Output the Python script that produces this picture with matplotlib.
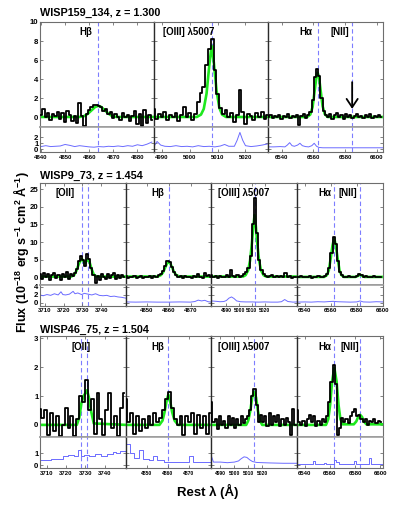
import numpy as np
import matplotlib.pyplot as plt

plt.rcParams['font.family'] = ['Liberation Sans', 'DejaVu Sans']
plt.rcParams['font.weight'] = 'bold'
plt.rcParams['mathtext.default'] = 'regular'

### data (rest wavelength in A, flux in 1e-18 cgs)

# WISP159_134, z = 1.300
p1_hb_grid = (4840.0, 1.0)
p1_hb_flux = [0.3, 0.9, 0.1, 0.5, -0.3, 0.4, 0.2, 0.6, -0.2, 0.5, -0.5, 0.7, 0.3, -0.4, 0.2, -0.6,
              1.5, 0.2, -0.9, 0.4, 0.8, 1.1, 1.3, 1.35, 1.25, 1.1, 0.7, 0.9, 0.4, 0.6, -0.1, 0.4,
              0.1, -0.3, 0.5, 0.0, 0.3, -0.4, 0.2, 0.7, -0.7, 0.4, -0.9, 0.8, -0.6, 0.3, -0.3]
p1_hb_model_wl = [4839.6, 4856, 4858, 4859.5, 4861, 4862.5, 4863.8, 4865, 4866.5, 4868, 4869.5, 4871.5, 4886.9]
p1_hb_model = [0.05, 0.05, 0.15, 0.4, 0.75, 1.1, 1.22, 1.1, 0.75, 0.4, 0.15, 0.05, 0.05]
p1_hb_err_wl = [4840, 4842, 4844, 4846, 4848, 4850, 4852, 4854, 4856, 4858, 4860, 4862, 4864, 4866,
                4868, 4870, 4872, 4874, 4876, 4878, 4880, 4882, 4884, 4886]
p1_hb_err = [0.45, 0.6, 0.45, 0.5, 0.55, 0.8, 0.65, 0.45, 0.6, 0.5, 0.4, 0.35, 0.45, 0.4,
             0.5, 0.45, 0.55, 0.45, 0.6, 0.5, 0.75, 0.6, 0.85, 1.2]

p1_o3_grid = (4987.0, 1.0)
p1_o3_flux = [0.9, -0.2, 0.4, 0.1, 0.6, -0.3, 0.3, 0.0, 0.5, -0.4, 0.3, 1.1, 0.0, 0.5, -0.3, 0.4,
              1.6, 2.6, 3.2, 5.5, 7.2, 8.2, 5.0, 2.5, 1.0, 0.4, 0.8, 0.1, 0.5, -0.5, 0.3, 2.9,
              0.6, -0.7, 0.4, 0.2, -0.3, 0.5, 0.1, 0.6, -0.2, 0.3]
p1_o3_model_wl = [4987.1, 5002.5, 5004, 5005, 5006, 5007, 5007.8, 5008.6, 5009.6, 5010.6, 5011.6, 5013, 5028.1]
p1_o3_model = [0.05, 0.05, 0.3, 0.9, 2.5, 5.5, 7.5, 5.8, 2.8, 1.0, 0.3, 0.05, 0.05]
p1_o3_err_wl = [4987.1, 4988.2, 4989.5, 4991, 4993, 4995, 4997, 4999, 5001, 5003, 5005, 5007, 5009,
                5011, 5012.5, 5014, 5016, 5017, 5018, 5019, 5020, 5022, 5024, 5026, 5028.1]
p1_o3_err = [0.5, 1.3, 0.7, 0.5, 0.45, 0.6, 0.45, 0.5, 0.4, 0.6, 0.45, 0.5, 0.4,
             0.55, 0.8, 0.5, 0.5, 1.5, 2.8, 1.5, 0.6, 0.45, 0.55, 0.7, 0.9]

p1_ha_grid = (6531.5, 1.4)
p1_ha_flux = [0.1, 0.3, -0.1, 0.2, 0.0, 0.3, -0.2, 0.2, 0.1, 0.4, -0.1, 0.2, 0.0, 0.3, -0.8, 0.2,
              0.4, -0.1, 0.3, 0.6, 1.8, 4.2, 5.1, 4.3, 2.0, 0.7, 0.3, 0.1, 0.4, -0.2, 0.3, 0.5,
              0.0, 0.3, -0.2, 0.4, 0.1, 0.3, -0.1, 0.2, 0.4, 0.0, 0.2, -0.1, 0.3, 0.1, 0.4, -0.1,
              0.2, 0.0, 0.3, 0.1]
p1_ha_model_wl = [6531.3, 6556, 6558, 6559.5, 6560.8, 6562, 6562.6, 6563.5, 6564.6, 6565.8, 6567.2, 6569, 6604]
p1_ha_model = [0.05, 0.05, 0.3, 1.1, 2.8, 4.4, 4.7, 4.3, 2.8, 1.2, 0.35, 0.05, 0.05]
p1_ha_err_wl = [6531.3, 6535, 6539, 6542, 6543.5, 6545, 6546.5, 6548, 6550, 6551.5, 6553, 6555,
                6557, 6559, 6560.5, 6562, 6563.5, 6566, 6575, 6590, 6604]
p1_ha_err = [0.4, 0.4, 0.45, 0.4, 0.7, 1.1, 0.6, 0.5, 0.7, 1.0, 0.6, 0.45,
             0.4, 0.6, 1.0, 0.5, 0.3, 0.25, 0.25, 0.25, 0.25]

# WISP9_73, z = 1.454
p2_o2_grid = (3707.3, 1.1)
p2_o2_flux = [0.8, -0.6, 1.2, 0.0, 0.9, -0.8, 0.5, 1.3, -0.3, 0.7, -0.9, 1.0, 0.2, 1.6, -0.5, 0.9,
              0.3, 1.2, 2.4, 4.6, 5.9, 4.8, 3.2, 6.5, 5.2, 2.5, 0.6, -1.6, 0.4, -0.8, 0.9, 0.1,
              -0.6, 0.8, -0.3, 0.5, 1.1, -0.5, 0.6, -0.2, 0.7, 0.1]
p2_o2_model_wl = [3707.3, 3724, 3725.5, 3726.8, 3728, 3729, 3729.7, 3730.5, 3731.3, 3732.1, 3732.9,
                  3733.8, 3734.8, 3736, 3737.5, 3753.1]
p2_o2_model = [0.2, 0.2, 0.6, 1.9, 3.7, 4.8, 5.2, 4.6, 3.9, 4.6, 5.1, 4.3, 2.4, 0.8, 0.2, 0.2]
p2_o2_err_wl = [3707.3, 3709, 3711, 3713, 3715, 3717, 3718.5, 3719.5, 3721, 3723, 3725, 3726, 3727.5,
                3729.5, 3731, 3733, 3735, 3737, 3739, 3741, 3743, 3745, 3747, 3749, 3751, 3753.1]
p2_o2_err = [2.0, 1.8, 2.1, 1.9, 2.3, 2.0, 2.8, 2.1, 2.0, 2.2, 2.9, 2.3, 2.5,
             2.1, 2.4, 2.2, 2.0, 2.3, 1.9, 1.8, 1.9, 1.6, 1.7, 1.5, 1.4, 1.2]

p2_hb_grid = (4840.5, 1.0)
p2_hb_flux = [0.3, -0.2, 0.2, 0.0, 0.4, -0.3, 0.1, 0.3, -0.2, 0.2, 0.0, 0.4, -0.1, 0.3, 0.1, 0.5,
              0.9, 1.8, 3.2, 4.6, 4.3, 2.8, 1.4, 0.6, 0.2, 0.4, -0.1, 0.3, 0.0, 0.2, -0.2, 0.4,
              0.1, 0.9, 0.2, -0.1, 1.1, 0.3, 0.6, 0.2]
p2_hb_model_wl = [4840.5, 4855, 4856.5, 4857.5, 4858.5, 4859.3, 4860, 4860.8, 4861.6, 4862.5, 4863.5, 4865, 4879.5]
p2_hb_model = [0.2, 0.2, 0.6, 1.4, 2.8, 3.9, 4.4, 3.9, 2.8, 1.5, 0.6, 0.2, 0.2]
p2_hb_err_wl = [4840.5, 4845, 4850, 4855, 4860, 4865, 4870, 4872, 4873.5, 4875, 4876.5, 4878, 4879.5]
p2_hb_err = [0.25, 0.2, 0.25, 0.2, 0.2, 0.25, 0.2, 0.35, 0.7, 0.5, 0.65, 0.3, 0.2]

p2_o3_grid = (4978.3, 1.7)
p2_o3_flux = [0.5, 0.1, 0.3, -0.2, 0.4, 0.2, 0.0, 0.5, 0.1, 2.1, 0.4, 0.2, 0.6, 0.0, 0.4, 0.9,
              1.4, 2.5, 6.0, 15.0, 22.4, 12.5, 5.0, 2.0, 0.8, 0.4, 0.0, 0.3, 0.5, 0.1, 0.3, 0.0,
              0.4, 0.2, 1.1, 0.1, 0.3, -0.1, 0.2, 0.0]
p2_o3_model_wl = [4978.3, 5003, 5005, 5007, 5008.5, 5010, 5011, 5012, 5013, 5014, 5015.5, 5017, 5019, 5021, 5045.2]
p2_o3_model = [0.2, 0.2, 0.6, 2.0, 4.8, 10.0, 14.5, 17.7, 14.5, 10.0, 4.8, 2.0, 0.6, 0.2, 0.2]
p2_o3_err_wl = [4978.3, 4982, 4985, 4988, 4990, 4992, 4994, 4996, 4998, 5001, 5005, 5010, 5015, 5020,
                5025, 5030, 5033, 5035.5, 5038, 5042, 5045.2]
p2_o3_err = [0.5, 0.4, 0.3, 0.35, 0.6, 1.2, 1.5, 1.1, 0.5, 0.3, 0.25, 0.25, 0.2, 0.25,
             0.2, 0.2, 0.3, 0.85, 0.35, 0.2, 0.25]

p2_ha_grid = (6534.1, 1.65)
p2_ha_flux = [0.2, 0.1, 0.3, 0.0, 0.2, 0.1, 0.3, -0.1, 0.2, 0.1, 0.3, 0.0, 0.2, 0.4, 1.0, 2.5,
              7.0, 11.5, 9.5, 4.5, 1.5, 0.5, 0.2, 0.0, 0.3, 0.1, 0.2, 0.0, 0.4, 0.9, 0.5, 0.1,
              0.3, 0.0, 0.2, 0.1, 0.3, 0.0, 0.2, 0.1]
p2_ha_model_wl = [6534.1, 6555, 6557, 6558.5, 6560, 6561.3, 6562.6, 6563.9, 6565.2, 6566.7, 6568.2,
                  6570, 6579, 6581, 6582.5, 6584, 6586, 6600]
p2_ha_model = [0.1, 0.1, 0.6, 2.0, 5.5, 9.0, 11.1, 9.0, 5.5, 2.0, 0.6, 0.1, 0.1, 0.4, 0.75, 0.4, 0.1, 0.1]
p2_ha_err_wl = [6534.1, 6540, 6545, 6550, 6555, 6559, 6562, 6565, 6570, 6575, 6580, 6582.5, 6585,
                6590, 6595, 6600]
p2_ha_err = [0.2, 0.25, 0.2, 0.3, 0.25, 0.35, 0.4, 0.3, 0.25, 0.2, 0.25, 0.5, 0.25, 0.2, 0.3, 0.25]

# WISP46_75, z = 1.504
p3_o2_grid = (3706.5, 1.5)
p3_o2_flux = [0.55, 0.25, 0.5, -0.35, 0.4, -0.2, 0.3, -0.4, 0.0, 0.6, -0.1, 0.3, -0.4, 0.2, 1.0,
              0.8, 1.55, 0.5, 0.9, -0.3, 1.1, 0.2, -0.35, 0.5, 1.1, -0.1, 0.3, -0.4, 0.6, 1.1]
p3_o2_model_wl = [3706.5, 3725.5, 3726.8, 3727.9, 3729, 3730, 3730.8, 3731.8, 3733, 3734.3, 3750.8]
p3_o2_model = [0.0, 0.0, 0.25, 0.75, 1.0, 1.1, 1.2, 0.95, 0.45, 0.05, 0.0]
p3_o2_err_wl = [3706.5, 3712, 3718.5, 3721, 3724, 3726, 3727.5, 3729, 3732, 3735, 3738, 3741, 3744,
                3746, 3748, 3750.8]
p3_o2_err = [0.45, 0.5, 0.8, 0.85, 0.75, 1.25, 0.75, 0.85, 0.8, 0.95, 0.8, 0.95, 1.15, 1.0, 1.2, 1.2]

p3_hb_grid = (4839.8, 1.4)
p3_hb_flux = [0.9, 0.1, 0.4, -0.3, 0.3, -0.2, 0.2, -0.1, 0.3, 0.0, 0.4, 0.1, 0.25, 0.5, 0.9,
              1.15, 0.6, 0.2, 0.0, 0.3, -0.35, 0.3, 0.1, 0.4, -0.3, 0.35, -0.1, 0.3, -0.3, 0.4]
p3_hb_model_wl = [4839.8, 4856, 4857.5, 4858.5, 4859.5, 4860.3, 4861.1, 4862.1, 4863.3, 4865, 4881]
p3_hb_model = [0.0, 0.0, 0.15, 0.45, 0.85, 1.05, 0.85, 0.45, 0.15, 0.0, 0.0]
p3_hb_err_wl = [4839.8, 4842, 4844, 4846, 4848, 4851, 4853, 4855, 4858, 4863, 4868, 4870, 4872, 4876, 4881]
p3_hb_err = [1.8, 1.0, 0.6, 1.3, 0.55, 0.45, 0.75, 0.4, 0.3, 0.3, 0.25, 0.75, 0.3, 0.25, 0.25]

p3_o3_grid = (4983.5, 1.55)
p3_o3_flux = [0.8, 0.1, 0.2, -0.15, 0.3, 0.0, 0.15, -0.1, 0.3, 0.0, 0.25, -0.1, 0.2, 0.0, 0.3,
              0.05, 0.2, 0.3, 0.5, 1.0, 1.25, 0.7, 0.1, 0.35, 0.1, 0.3, -0.05, 0.4, 0.0, 0.3,
              0.1, 0.35, -0.05, 0.2, 0.0, 0.25, 0.1, -0.35, 0.55, 0.0]
p3_o3_model_wl = [4983.5, 5008.5, 5010, 5011.5, 5012.8, 5014.2, 5015.6, 5016.9, 5018.4, 5020, 5045.1]
p3_o3_model = [0.0, 0.0, 0.15, 0.5, 0.95, 1.15, 0.95, 0.5, 0.15, 0.0, 0.0]
p3_o3_err_wl = [4983.5, 4985, 4990, 4995, 5000, 5003, 5005, 5007, 5009, 5011, 5013, 5016, 5025, 5035, 5045.1]
p3_o3_err = [0.75, 0.25, 0.25, 0.2, 0.25, 0.35, 0.55, 0.7, 0.65, 0.45, 0.3, 0.22, 0.18, 0.15, 0.15]

p3_ha_grid = (6534.1, 1.7)
p3_ha_flux = [0.5, 0.1, 0.0, 0.15, -0.05, 0.2, 0.35, 0.1, 0.3, -0.05, 0.15, 0.0, 0.2, 0.1, 0.3,
              0.8, 1.5, 2.08, 1.4, -0.35, -0.1, 0.25, 0.1, 0.2, 0.05, 0.3, 0.45, 0.55, 0.3, 0.35,
              0.2, 0.1, 0.2, 0.0, 0.15, 0.1, 0.2, 0.05, 0.15, 0.1]
p3_ha_model_wl = [6534.1, 6557, 6558.8, 6560.3, 6561.8, 6563.6, 6565.4, 6566.9, 6568.4, 6570.2, 6579,
                  6581, 6582.5, 6584, 6585.5, 6587, 6589, 6602]
p3_ha_model = [0.0, 0.0, 0.2, 0.7, 1.5, 1.98, 1.5, 0.7, 0.2, 0.02, 0.02, 0.12, 0.28, 0.35, 0.28, 0.12, 0.02, 0.02]
p3_ha_err_wl = [6534.1, 6546.5, 6548, 6549.5, 6555.5, 6557, 6558.5, 6563.5, 6565, 6567, 6569, 6579,
                6580.5, 6582, 6591, 6592.5, 6594, 6602]
p3_ha_err = [0.05, 0.35, 0.05, 0.05, 0.2, 0.05, 0.05, 0.45, 0.3, 0.1, 0.05, 0.35, 0.05, 0.05, 0.6, 0.05, 0.05, 0.05]

# marked line positions and tick labels
p1_lines = [[4863.8], [5007.8], [6563.1, 6584.5]]
p2_lines = [[3729.7, 3732.9], [4860.0], [5012.0], [6562.6, 6582.5]]
p3_lines = [[3727.9, 3730.8], [4860.3], [5014.2], [6563.6, 6584.0]]
p1_xticks = [[4840, 4850, 4860, 4870, 4880], [4990, 5000, 5010, 5020], [6540, 6560, 6580, 6600]]
p23_xticks = [[3710, 3720, 3730, 3740], [4850, 4860, 4870], [4990, 5000, 5010, 5020], [6540, 6560, 6580, 6600]]
nii_arrow = (6584.5, 3.7, 0.9)   # wavelength, from, to

### layout (pixels of the 407x509 figure)
W, H = 407, 509
fig = plt.figure(figsize=(W / 100, H / 100), dpi=100)


def box(x0, x1, ytop, ybot):
    return [x0 / W, 1 - ybot / H, (x1 - x0) / W, (ybot - ytop) / H]


def seg(grid, flux, mwl, mod, ewl, err, lines, ticks, xlim, step=False):
    return dict(grid=grid, flux=flux, mwl=mwl, mod=mod, ewl=ewl, err=err,
                lines=lines, ticks=ticks, xlim=xlim, step=step)


panels = [
    dict(title='WISP159_134, z = 1.300', ty=13, top=22, sep=127, bot=152,
         edges=[40, 154, 268, 383], ylim=(-1, 10), yt=[0, 2, 4, 6, 8, 10],
         slim=(-0.45, 3.7), syt=[0, 1, 2],
         segs=[seg(p1_hb_grid, p1_hb_flux, p1_hb_model_wl, p1_hb_model, p1_hb_err_wl, p1_hb_err,
                   p1_lines[0], p1_xticks[0], (4839.6, 4886.9)),
               seg(p1_o3_grid, p1_o3_flux, p1_o3_model_wl, p1_o3_model, p1_o3_err_wl, p1_o3_err,
                   p1_lines[1], p1_xticks[1], (4987.1, 5028.1)),
               seg(p1_ha_grid, p1_ha_flux, p1_ha_model_wl, p1_ha_model, p1_ha_err_wl, p1_ha_err,
                   p1_lines[2], p1_xticks[2], (6531.3, 6604.0))],
         labels=[('H\u03b2', 86, 32), ('[OIII] \u03bb5007', 189, 32), ('H\u03b1', 306, 32), ('[NII]', 340, 32)]),
    dict(title='WISP9_73, z = 1.454', ty=175.5, top=183.3, sep=285, bot=305.7,
         edges=[40, 125.7, 211.4, 297.1, 382.8], ylim=(-2.2, 26.7), yt=[0, 5, 10, 15, 20, 25],
         slim=(-0.7, 4.5), syt=[0, 2, 4],
         segs=[seg(p2_o2_grid, p2_o2_flux, p2_o2_model_wl, p2_o2_model, p2_o2_err_wl, p2_o2_err,
                   p2_lines[0], p23_xticks[0], (3707.3, 3753.1)),
               seg(p2_hb_grid, p2_hb_flux, p2_hb_model_wl, p2_hb_model, p2_hb_err_wl, p2_hb_err,
                   p2_lines[1], p23_xticks[1], (4840.5, 4879.5)),
               seg(p2_o3_grid, p2_o3_flux, p2_o3_model_wl, p2_o3_model, p2_o3_err_wl, p2_o3_err,
                   p2_lines[2], p23_xticks[2], (4978.3, 5045.2)),
               seg(p2_ha_grid, p2_ha_flux, p2_ha_model_wl, p2_ha_model, p2_ha_err_wl, p2_ha_err,
                   p2_lines[3], p23_xticks[3], (6534.1, 6600.0))],
         labels=[('[OII]', 65.5, 193.5), ('H\u03b2', 158.3, 193.5), ('[OIII] \u03bb5007', 243.3, 193.5),
                 ('H\u03b1', 325, 193.5), ('[NII]', 348, 193.5)]),
    dict(title='WISP46_75, z = 1.504', ty=329.7, top=336, sep=437.3, bot=468.3,
         edges=[40, 125.7, 211.4, 297.1, 382.8], ylim=(-0.43, 3.08), yt=[0, 1, 2, 3],
         slim=(-0.28, 2.37), syt=[0, 1],
         segs=[seg(p3_o2_grid, p3_o2_flux, p3_o2_model_wl, p3_o2_model, p3_o2_err_wl, p3_o2_err,
                   p3_lines[0], p23_xticks[0], (3706.5, 3750.8), True),
               seg(p3_hb_grid, p3_hb_flux, p3_hb_model_wl, p3_hb_model, p3_hb_err_wl, p3_hb_err,
                   p3_lines[1], p23_xticks[1], (4839.8, 4881.0), True),
               seg(p3_o3_grid, p3_o3_flux, p3_o3_model_wl, p3_o3_model, p3_o3_err_wl, p3_o3_err,
                   p3_lines[2], p23_xticks[2], (4983.5, 5045.1)),
               seg(p3_ha_grid, p3_ha_flux, p3_ha_model_wl, p3_ha_model, p3_ha_err_wl, p3_ha_err,
                   p3_lines[3], p23_xticks[3], (6534.1, 6602.0), True)],
         labels=[('[OII]', 81.2, 347), ('H\u03b2', 158.3, 347), ('[OIII] \u03bb5007', 243.3, 347),
                 ('H\u03b1', 325, 347), ('[NII]', 349.7, 347)]),
]

frame = '#6e6e6e'
green = '#1ee81e'
dash_blue = '#7d7dff'
err_blue = '#6b6bff'

for p in panels:
    fig.text(40 / W, 1 - p['ty'] / H, p['title'], fontsize=7.8, fontweight='bold', va='center', ha='left')
    for k, s in enumerate(p['segs']):
        e0, e1 = p['edges'][k], p['edges'][k + 1]
        ax = fig.add_axes(box(e0, e1, p['top'], p['sep']))
        sx = fig.add_axes(box(e0, e1, p['sep'], p['bot']))

        wl = s['grid'][0] + s['grid'][1] * np.arange(len(s['flux']))
        for l in s['lines']:
            ax.axvline(l, color=dash_blue, lw=0.8, ls=(0, (4, 2.5)), zorder=1)
            sx.axvline(l, color=dash_blue, lw=0.8, ls=(0, (4, 2.5)), zorder=1)
        ax.plot(s['mwl'], s['mod'], color=green, lw=1.9, zorder=2)
        ax.plot(wl, s['flux'], color='k', lw=1.3, drawstyle='steps-mid', zorder=3)
        sx.plot(s['ewl'], s['err'], color=err_blue, lw=0.7,
                drawstyle='steps-post' if s['step'] else 'default', zorder=2)

        for a in (ax, sx):
            a.set_xlim(s['xlim'])
            for sp in a.spines.values():
                sp.set_color(frame)
                sp.set_linewidth(0.8)
            if k > 0:
                a.spines['left'].set_color('#2a2a2a')
                a.spines['left'].set_linewidth(1.0)
            a.tick_params(axis='y', direction='in', length=2.5, width=0.6, color=frame,
                          left=True, right=True, labelsize=5.6, pad=1.2, labelleft=(k == 0))
            a.tick_params(axis='x', direction='in', length=2, width=0.6, color=frame)
        ax.spines['bottom'].set_color('#999999')
        ax.spines['bottom'].set_linewidth(1.1)
        sx.spines['top'].set_color('#999999')
        sx.spines['top'].set_linewidth(1.1)

        ax.set_ylim(p['ylim'])
        ax.set_yticks(p['yt'])
        ax.set_xticks(s['ticks'])
        ax.tick_params(axis='x', top=True, bottom=False, labelbottom=False)
        sx.set_ylim(p['slim'])
        sx.set_yticks(p['syt'])
        sx.set_xticks(s['ticks'])
        sx.set_xticklabels([str(t) for t in s['ticks']])
        # the [OIII] block of the lower panels is crowded, keep its labels apart
        crowded = (s['ticks'][-1] - s['ticks'][0]) / (s['xlim'][1] - s['xlim'][0]) < 0.5
        sx.tick_params(axis='x', labelsize=3.6 if crowded else 4.3, pad=2)
        for t in ax.get_yticklabels() + sx.get_yticklabels() + sx.get_xticklabels():
            t.set_fontweight('bold')

        if p is panels[0] and k == 2:
            ax.annotate('', xy=(nii_arrow[0], nii_arrow[2]), xytext=(nii_arrow[0], nii_arrow[1]),
                        arrowprops=dict(arrowstyle='->,head_length=0.6,head_width=0.4',
                                        color='k', lw=1.3, shrinkA=0, shrinkB=0))
    for txt, x, y in p['labels']:
        fig.text(x / W, 1 - y / H, txt, fontsize=7, fontweight='bold', ha='center', va='center', zorder=10)

fig.text(21 / W, 1 - 252 / H, r'Flux (10$^{-18}$ erg s$^{-1}$ cm$^{2}$ $\AA^{-1}$)',
         rotation=90, ha='center', va='center', fontsize=9, fontweight='bold')
fig.text(208 / W, 1 - 491.5 / H, 'Rest \u03bb (\u00c5)', ha='center', va='center',
         fontsize=9.5, fontweight='bold')

plt.savefig('out.png', dpi=100)
plt.close('all')
